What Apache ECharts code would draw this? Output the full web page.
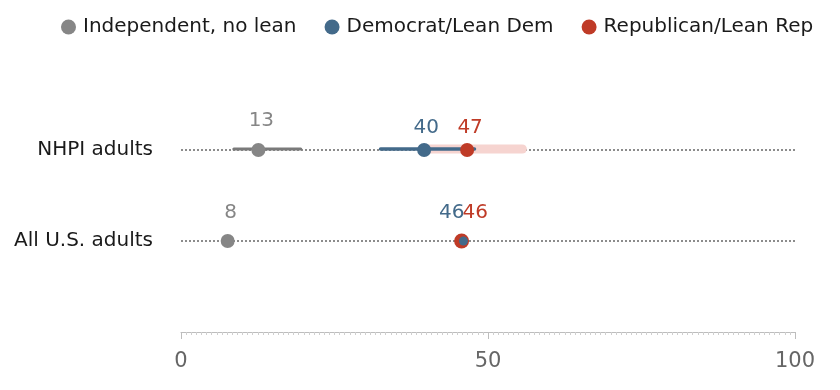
<!DOCTYPE html>
<html><head><meta charset="utf-8">
<script src="https://cdn.jsdelivr.net/npm/echarts@6/dist/echarts.min.js"></script>
<style>html,body{margin:0;padding:0;background:#fff}#c{width:840px;height:390px}</style>
</head><body><div id="c"></div>
<script>
// Data
const categories = ['All U.S. adults', 'NHPI adults'];
const seriesNames = ['Independent, no lean', 'Democrat/Lean Dem', 'Republican/Lean Rep'];
const independent = [7.6, 12.6];
const democrat = [46.0, 39.6];
const republican = [45.7, 46.6];
const independentCI = [null, [8.6, 19.5]];
const democratCI = [null, [32.5, 47.8]];
const republicanCI = [null, [40.2, 55.6]];
const xTicks = [0, 50, 100];

// Style / layout
const FONT = 'DejaVu Sans';
const colors = { ind: '#868686', dem: '#436a8a', rep: '#bf3b27', repCI: '#f6d4d0', indCI: '#7a7a7a' };
const labelOffsets = {
  ind: [[3, -28], [3, -29]],
  dem: [[1, -28, 'right'], [2, -22, 'center']],
  rep: [[1, -28, 'left'], [3, -22, 'center']]
};
const dotSizes = { ind: [14, 14], dem: [9, 14], rep: [15, 14] };

function ciSeries(ci, color, width, z) {
  const data = [];
  ci.forEach((r, i) => { if (r) data.push([r[0], r[1], i + 1]); });
  return {
    type: 'custom', z: z, silent: true, data: data,
    encode: { x: [0, 1], y: 2 },
    renderItem: function (params, api) {
      const p1 = api.coord([api.value(0), api.value(2)]);
      const p2 = api.coord([api.value(1), api.value(2)]);
      return { type: 'line', shape: { x1: p1[0], y1: p1[1] - 1, x2: p2[0], y2: p2[1] - 1 },
        style: { stroke: color, lineWidth: width, lineCap: 'round' } };
    }
  };
}

function dotSeries(name, values, key, z) {
  return {
    type: 'scatter', name: name, z: z, symbol: 'circle',
    data: values.map((v, i) => ({
      value: [v, i + 1],
      symbolSize: dotSizes[key][i],
      label: { offset: [labelOffsets[key][i][0], labelOffsets[key][i][1]], align: labelOffsets[key][i][2] || 'center' }
    })),
    itemStyle: { color: colors[key], opacity: 1 },
    label: {
      show: true, position: 'inside', color: colors[key], fontSize: 20, fontFamily: FONT,
      formatter: p => String(Math.round(p.value[0]))
    },
    emphasis: { disabled: true }
  };
}

const chart = echarts.init(document.getElementById('c'), null, { renderer: 'canvas' });
chart.setOption({
  animation: false,
  legend: {
    data: seriesNames, icon: 'circle', itemWidth: 19, itemHeight: 15, left: 56, top: 12, itemGap: 28,
    textStyle: { fontSize: 20, fontFamily: FONT, color: '#1a1a1a' }, selectedMode: false
  },
  grid: { left: 181, right: 45, top: 59, bottom: 58, containLabel: false },
  xAxis: {
    type: 'value', min: xTicks[0], max: xTicks[xTicks.length - 1], interval: xTicks[1] - xTicks[0],
    axisLine: { show: true, lineStyle: { color: '#bdbdbd', width: 1 } },
    axisTick: { show: true, length: 7, lineStyle: { color: '#bdbdbd' } },
    minorTick: { show: true, splitNumber: 60, length: 3, lineStyle: { color: '#cfcfcf' } },
    splitLine: { show: false },
    axisLabel: { fontSize: 21, fontFamily: FONT, color: '#666', margin: 19 }
  },
  yAxis: {
    type: 'value', min: 0, max: 3, interval: 1,
    axisLine: { show: false }, axisTick: { show: false }, splitLine: { show: false },
    axisLabel: { formatter: v => categories[v - 1] || '', fontSize: 20, fontFamily: FONT, color: '#1a1a1a', margin: 28 }
  },
  series: [
    {
      type: 'line', data: [], z: 1, silent: true,
      markLine: {
        z: 1, silent: true, symbol: 'none', label: { show: false }, animation: false,
        lineStyle: { type: [2, 2], color: '#8c8c8c', width: 2 },
        emphasis: { disabled: true },
        data: categories.map((c, i) => ({ yAxis: i + 1 }))
      }
    },
    ciSeries(republicanCI, colors.repCI, 9, 2),
    ciSeries(independentCI, colors.indCI, 3, 3),
    ciSeries(democratCI, colors.dem, 3.5, 3),
    dotSeries(seriesNames[0], independent, 'ind', 4),
    dotSeries(seriesNames[2], republican, 'rep', 5),
    dotSeries(seriesNames[1], democrat, 'dem', 6)
  ]
});
</script>
</body></html>
